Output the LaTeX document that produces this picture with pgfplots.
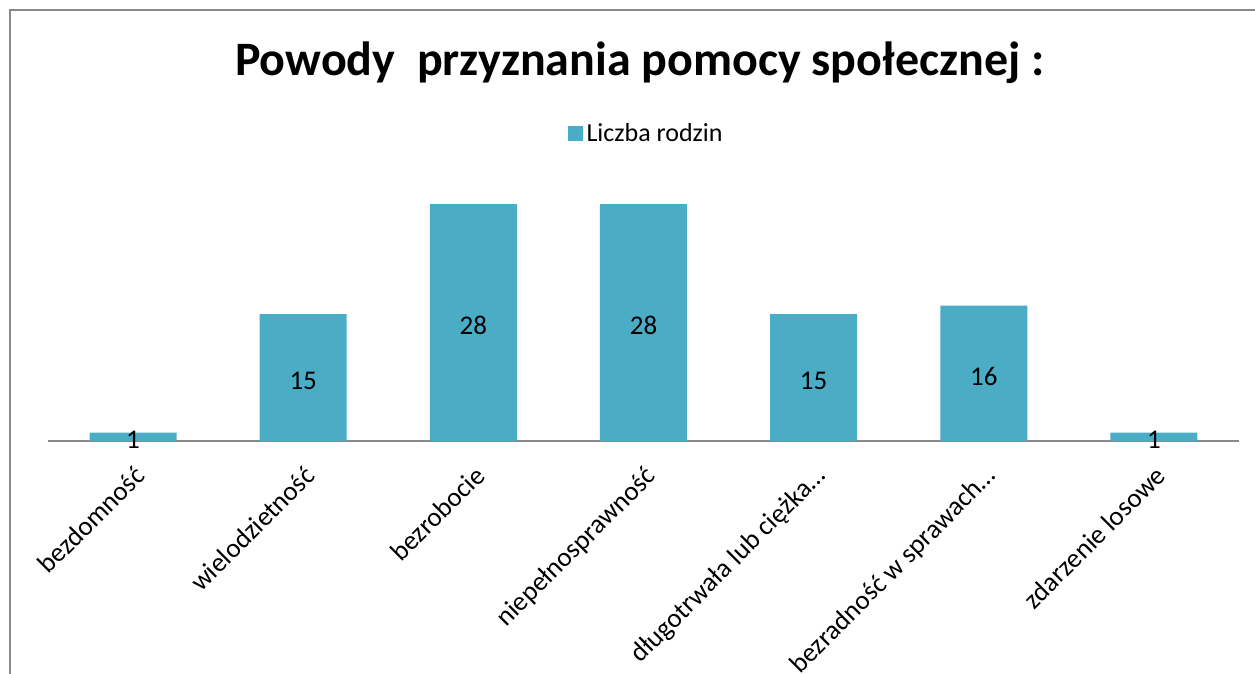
\documentclass[border=0pt]{standalone}
\usepackage{fontspec}
\setmainfont{Carlito}
\usepackage{pgfplots}
\pgfplotsset{compat=1.18}
\definecolor{barc}{HTML}{4BACC6}
\definecolor{framec}{HTML}{898989}
\begin{document}
\begin{tikzpicture}
\useasboundingbox (-24pt,-116.5pt) rectangle (603.5pt,220.5pt);
\draw[framec, line width=0.75pt] (-19pt,-118pt) -- (-19pt,215.5pt) -- (605pt,215.5pt);
\begin{axis}[
  at={(0,0)}, anchor=south west,
  scale only axis, width=595.5pt, height=126.9pt,
  ybar, bar width=43.5pt,
  xmin=-0.5, xmax=6.5, ymin=0, ymax=30,
  axis x line*=bottom, hide y axis,
  x axis line style={-, draw=framec, line width=0.75pt},
  xtick=data, xtick style={draw=none},
  xticklabels={bezdomność, wielodzietność, bezrobocie, niepełnosprawność, długotrwała lub ciężka…, bezradność w sprawach…, zdarzenie losowe},
  xticklabel style={rotate=45, anchor=north east, font=\fontsize{13.5}{16}\selectfont, inner sep=2pt, xshift=-3pt, yshift=-3pt},
  title={Powody\ \ przyznania pomocy społecznej :},
  title style={at={(0.497,1.394)}, anchor=base, font=\fontsize{24}{29}\selectfont\bfseries},
  legend style={at={(0.503,1.21)}, anchor=center, draw=none, font=\fontsize{13}{15}\selectfont},
  legend image code/.code={\fill[barc] (0pt,-3.75pt) rectangle (7.5pt,3.75pt);},
  nodes near coords,
  /pgf/number format/assume math mode=true,
  visualization depends on=rawy \as \rawy,
  every node near coord/.append style={anchor=center, text=black, font=\fontsize{13.5}{16}\selectfont, shift={(axis direction cs:0,-\rawy/2)}, yshift=-1.5pt},
]
\addplot[fill=barc, draw=none] coordinates {(0,1) (1,15) (2,28) (3,28) (4,15) (5,16) (6,1)};
\addlegendentry{Liczba rodzin}
\end{axis}
\end{tikzpicture}
\end{document}
